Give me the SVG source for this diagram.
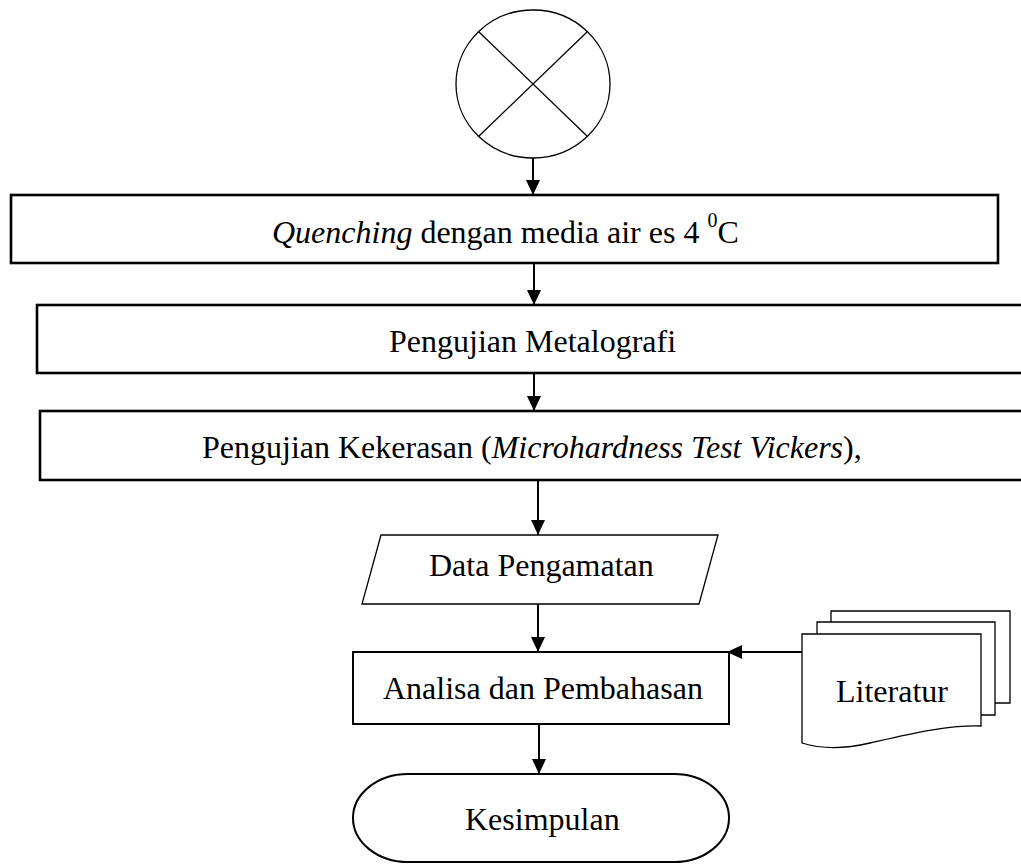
<svg xmlns="http://www.w3.org/2000/svg" width="1021" height="864" viewBox="0 0 1021 864">
<style>
text{font-family:"Liberation Serif","Times New Roman",serif;font-size:32px;fill:#000}
.i{font-style:italic}
.thick{fill:#fff;stroke:#000;stroke-width:2.6}
.med{fill:#fff;stroke:#000;stroke-width:2}
.thin{fill:#fff;stroke:#000;stroke-width:1.3}
.conn{fill:none;stroke:#000;stroke-width:2}
</style>
<defs>
<marker id="ah" viewBox="0 0 16 16" refX="15" refY="8" markerWidth="16" markerHeight="16" markerUnits="userSpaceOnUse" orient="auto">
<path d="M0,1 L15,8 L0,15 Z" fill="#000"/>
</marker>
</defs>
<g id="start">
<ellipse class="thin" cx="533" cy="84" rx="77" ry="74"/>
<line x1="478.5" y1="31.5" x2="587.5" y2="136.5" stroke="#000" stroke-width="1.3"/>
<line x1="587.5" y1="31.5" x2="478.5" y2="136.5" stroke="#000" stroke-width="1.3"/>
</g>
<g id="quenching">
<rect class="thick" x="11" y="195" width="987" height="68"/>
<text x="272" y="243"><tspan class="i">Quenching</tspan> dengan media air es 4 <tspan font-size="20" dy="-16">0</tspan><tspan dy="16">C</tspan></text>
</g>
<g id="metalografi">
<rect class="thick" x="37" y="305" width="995" height="68"/>
<text x="389" y="352">Pengujian Metalografi</text>
</g>
<g id="kekerasan">
<rect class="thick" x="40" y="411" width="992" height="69"/>
<text x="202" y="458">Pengujian Kekerasan (<tspan class="i">Microhardness Test Vickers</tspan>),</text>
</g>
<g id="data">
<polygon class="thin" points="381,535 718,535 699,604 362,604"/>
<text x="429" y="576">Data Pengamatan</text>
</g>
<g id="analisa">
<rect class="med" x="353" y="652" width="376" height="72"/>
<text x="383" y="699">Analisa dan Pembahasan</text>
</g>
<g id="literatur">
<path class="thin" d="M831,622 V611 H1010 V703 H995"/>
<path class="thin" d="M817,634 V622 H995 V715 H981"/>
<path class="thin" d="M802,634 H981 V726 C945,725 905,735 870,743 C840,750 818,748 802,743 Z"/>
<text x="836" y="702">Literatur</text>
</g>
<g id="kesimpulan">
<rect class="med" x="353" y="774" width="376" height="88" rx="55" ry="44"/>
<text x="465" y="830">Kesimpulan</text>
</g>
<g id="connectors">
<line class="conn" x1="533" y1="158" x2="533" y2="195" marker-end="url(#ah)"/>
<line class="conn" x1="534" y1="263" x2="534" y2="305" marker-end="url(#ah)"/>
<line class="conn" x1="534" y1="373" x2="534" y2="411" marker-end="url(#ah)"/>
<line class="conn" x1="538" y1="480" x2="538" y2="535" marker-end="url(#ah)"/>
<line class="conn" x1="538" y1="604" x2="538" y2="652" marker-end="url(#ah)"/>
<line class="conn" x1="539" y1="724" x2="539" y2="774" marker-end="url(#ah)"/>
<line class="conn" x1="802" y1="652" x2="727" y2="652" marker-end="url(#ah)"/>
</g>
</svg>
